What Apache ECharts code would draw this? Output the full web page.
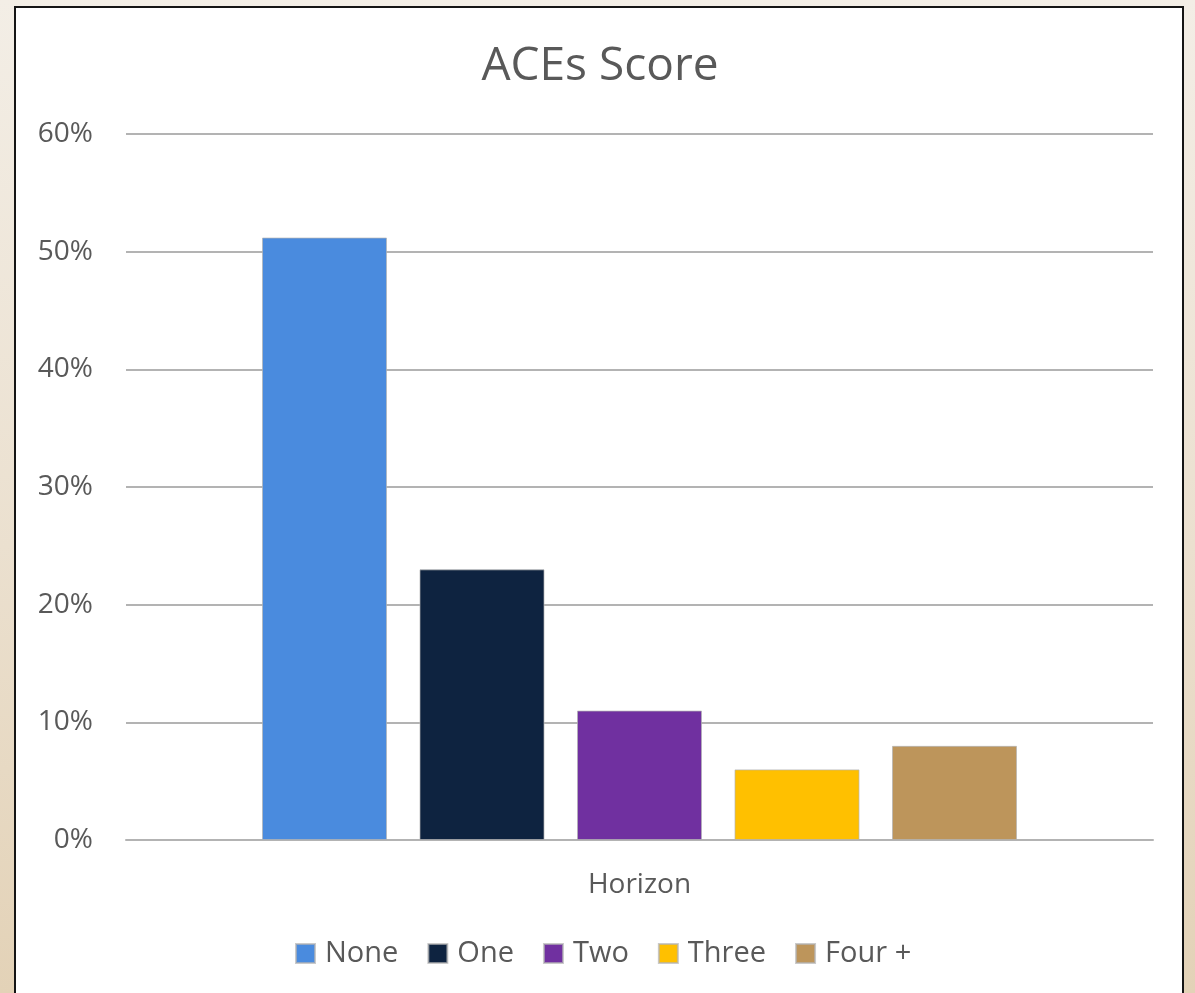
<!DOCTYPE html>
<html>
<head>
<meta charset="utf-8">
<script src="https://cdn.jsdelivr.net/npm/echarts@6/dist/echarts.min.js"></script>
<style>
  html, body { margin:0; padding:0; width:1195px; height:993px; overflow:hidden;
    background: linear-gradient(to bottom, #f3eee6 0%, #ebe0cf 55%, #e3d2b7 100%); }
  #frame { position:absolute; left:14px; top:6px; width:1170px; height:1010px;
    background:#ffffff; border:2px solid #151515; box-sizing:border-box; }
  #chart { position:absolute; left:0; top:0; width:1195px; height:993px; }
</style>
</head>
<body>
<div id="frame"></div>
<div id="chart"></div>
<script>
const chartTitle = 'ACEs Score';
const categories = ['Horizon'];
const seriesNames = ['None', 'One', 'Two', 'Three', 'Four +'];
const valNone = [51.2];
const valOne = [23];
const valTwo = [11];
const valThree = [6];
const valFour = [8];
const seriesValues = [valNone, valOne, valTwo, valThree, valFour];
const colors = ['#4a8bde', '#0e2340', '#7030a0', '#ffc000', '#bd955b'];
const yTicks = { min: 0, max: 60, interval: 10 };

const font = '"Open Sans", "Noto Sans", sans-serif';
const chart = echarts.init(document.getElementById('chart'), null, { renderer: 'canvas' });
chart.setOption({
  backgroundColor: 'transparent',
  animation: false,
  color: colors,
  title: {
    text: chartTitle,
    left: 595, top: 39, textAlign: 'center',
    textStyle: { fontFamily: font, fontSize: 46, fontWeight: 'normal', color: '#595959' }
  },
  legend: {
    data: seriesNames,
    left: 290, top: 934,
    icon: 'rect', itemWidth: 19, itemHeight: 19, itemGap: 29,
    textStyle: { fontFamily: font, fontSize: 29, color: '#595959', padding: [0, 0, 0, 5] }
  },
  grid: { left: 126, right: 42, top: 134, bottom: 153, containLabel: false },
  xAxis: {
    type: 'category', data: categories,
    axisLine: { lineStyle: { color: '#b3b3b3', width: 2 } },
    axisTick: { show: false },
    axisLabel: { fontFamily: font, fontSize: 28, color: '#595959', margin: 31 }
  },
  yAxis: {
    type: 'value', min: yTicks.min, max: yTicks.max, interval: yTicks.interval,
    axisLine: { show: false }, axisTick: { show: false },
    splitLine: { lineStyle: { color: '#b3b3b3', width: 2 } },
    axisLabel: { fontFamily: font, fontSize: 28, color: '#595959', margin: 33, formatter: '{value}%', padding: [4, 0, 0, 0] }
  },
  series: seriesNames.map((name, i) => ({
    name: name, type: 'bar', data: seriesValues[i],
    barWidth: 125, barGap: '26%',
    itemStyle: { color: colors[i], borderColor: 'rgba(180,180,180,0.7)', borderWidth: 1 }
  }))
});
</script>
</body>
</html>
